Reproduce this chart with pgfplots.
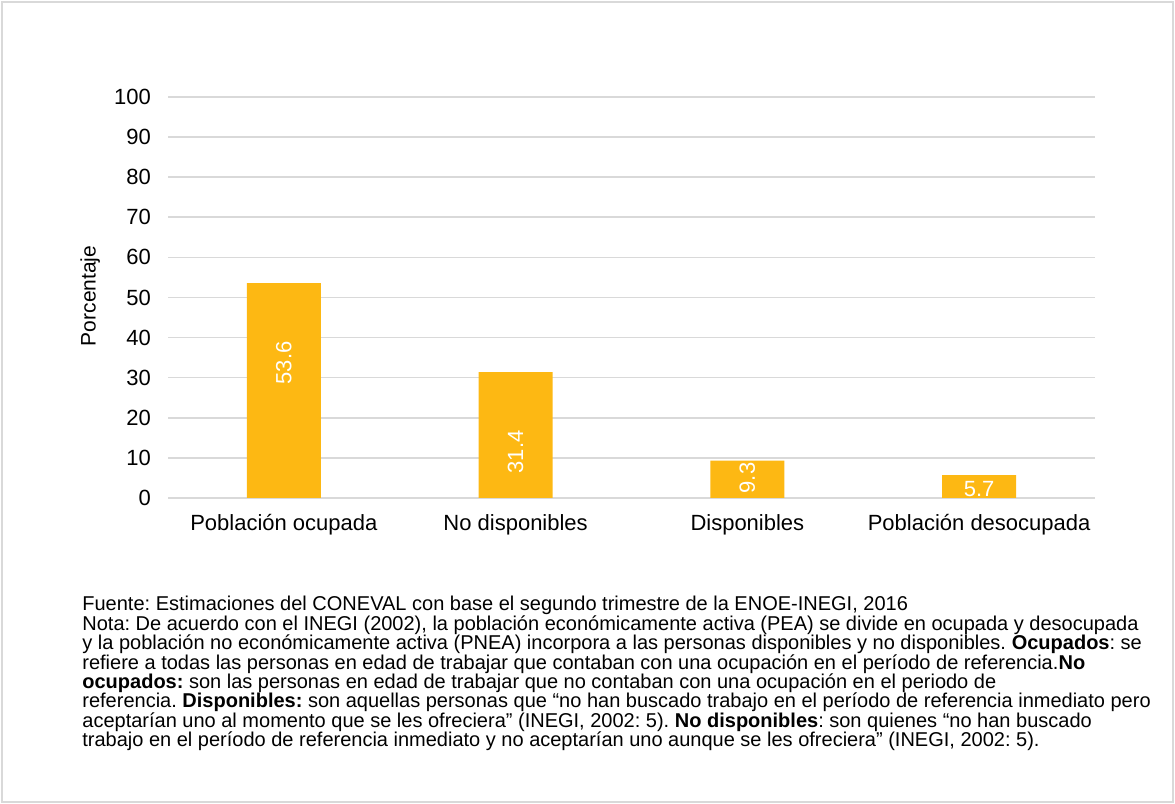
\documentclass[border=0pt]{standalone}
\usepackage{fontspec}
\setmainfont{Liberation Sans}
\usepackage{pgfplots}
\pgfplotsset{compat=1.18}
\definecolor{barc}{HTML}{FDB813}
\definecolor{gridc}{HTML}{D9D9D9}
\frenchspacing
\begin{document}
\begin{tikzpicture}[x=1pt,y=1pt]
\path[use as bounding box] (0,0) rectangle (587.5,402);
\draw[gridc,line width=0.8pt] (1,1) rectangle (586.5,401);
\begin{axis}[
  at={(84pt,153pt)}, anchor=south west,
  scale only axis, width=463.5pt, height=200.5pt,
  xmin=-0.5, xmax=3.5, ymin=0, ymax=100,
  ytick={0,10,...,100},
  xtick={0,1,2,3},
  xticklabels={Población ocupada, No disponibles, Disponibles, Población desocupada},
  ymajorgrids, major grid style={gridc,line width=0.8pt},
  axis x line*=bottom, axis y line*=left,
  x axis line style={gridc,line width=0.8pt},
  y axis line style={draw=none},
  major tick length=0pt,
  tick label style={font=\fontsize{11}{13}\selectfont},
  /pgf/number format/assume math mode=true,
  yticklabel style={xshift=-5pt},
  xticklabel style={yshift=-4.5pt},
  clip=false,
]
\addplot[ybar, bar width=37pt, fill=barc, draw=none] coordinates {(0,53.6) (1,31.4) (2,9.3) (3,5.7)};
\node[rotate=90, white, font=\fontsize{11}{13}\selectfont] at (axis cs:0,33.7) {53.6};
\node[rotate=90, white, font=\fontsize{11}{13}\selectfont] at (axis cs:1,11.5) {31.4};
\node[rotate=90, white, font=\fontsize{11}{13}\selectfont] at (axis cs:2,5.0) {9.3};
\node[white, font=\fontsize{11}{13}\selectfont] at (axis cs:3,2.3) {5.7};
\node[rotate=90, font=\fontsize{10.5}{12}\selectfont] at (axis description cs:-0.084,0.504) {Porcentaje};
\end{axis}
\node[anchor=north west, inner sep=0pt, align=left, font=\fontsize{10}{9.7}\selectfont] at (41,104) {%
Fuente: Estimaciones del CONEVAL con base el segundo trimestre de la ENOE-INEGI, 2016\\
Nota: De acuerdo con el INEGI (2002), la población económicamente activa (PEA) se divide en ocupada y desocupada\\
y la población no económicamente activa (PNEA) incorpora a las personas disponibles y no disponibles. \textbf{Ocupados}: se\\
refiere a todas las personas en edad de trabajar que contaban con una ocupación en el período de referencia.\textbf{No}\\
\textbf{ocupados:} son las personas en edad de trabajar que no contaban con una ocupación en el periodo de\\
referencia. \textbf{Disponibles:} son aquellas personas que “no han buscado trabajo en el período de referencia inmediato pero\\
aceptarían uno al momento que se les ofreciera” (INEGI, 2002: 5). \textbf{No disponibles}: son quienes “no han buscado\\
trabajo en el período de referencia inmediato y no aceptarían uno aunque se les ofreciera” (INEGI, 2002: 5).};
\end{tikzpicture}
\end{document}
